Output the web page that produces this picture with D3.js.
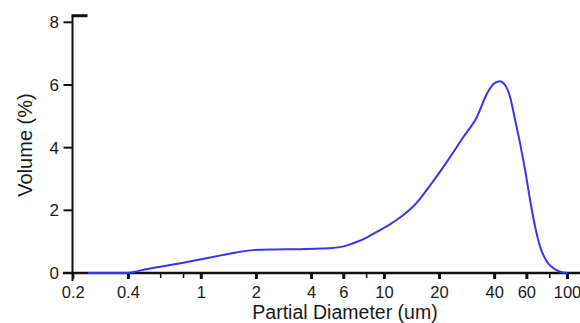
<!DOCTYPE html>
<html>
<head>
<meta charset="utf-8">
<script src="https://cdn.jsdelivr.net/npm/d3@7"></script>
<style>
  html, body { margin: 0; padding: 0; background: #fff; }
  svg { display: block; }
  text { font-family: "Liberation Sans", Arial, Helvetica, sans-serif; fill: #1a1a1a; }
</style>
</head>
<body>
<svg id="chart" width="580" height="323"></svg>
<script>
// ---- data ----
const diameters = [0.24, 0.39, 0.45, 0.5, 0.6, 0.8, 1.0, 1.3, 1.63, 1.92, 2.5, 3.46, 4.5, 5.25, 6.0, 6.75, 8.0, 9.13, 10.5, 11.7, 13.0, 14.4, 16.0, 17.8, 21.9, 27.0, 32.0, 36.3, 39.4, 42.5, 45.7, 48.6, 51.8, 55.1, 58.7, 62.5, 66.6, 70.9, 77.2, 83.8, 91.2, 100];
const volumes   = [0.0, 0.0, 0.06, 0.12, 0.2, 0.33, 0.44, 0.57, 0.68, 0.73, 0.75, 0.76, 0.78, 0.8, 0.85, 0.95, 1.13, 1.32, 1.52, 1.7, 1.9, 2.13, 2.44, 2.8, 3.54, 4.34, 4.98, 5.72, 6.03, 6.12, 5.99, 5.61, 4.87, 4.13, 3.28, 2.32, 1.47, 0.84, 0.36, 0.15, 0.04, 0.0];
const xTickValues = [0.2, 0.4, 1, 2, 4, 6, 10, 20, 40, 60, 100];
const xTickLabels = ["0.2", "0.4", "1", "2", "4", "6", "10", "20", "40", "60", "100"];
const xMinorTicks = [0.6, 0.8, 8, 80];
const yTickValues = [0, 2, 4, 6, 8];
const yTickLabels = ["0", "2", "4", "6", "8"];
const xTitle = "Partial Diameter (um)";
const yTitle = "Volume (%)";

const svg = d3.select("#chart");
const x = d3.scaleLog().domain([0.2, 100]).range([73.3, 567.5]);
const y = d3.scaleLinear().domain([0, 8]).range([273, 22.3]);
const axisX = 72.5;

// ---- y axis ----
const gy = svg.append("g");
gy.append("line").attr("x1", axisX).attr("x2", axisX)
  .attr("y1", y(8.21)).attr("y2", y(0) + 8)
  .attr("stroke", "#111").attr("stroke-width", 2);
gy.append("line").attr("x1", axisX - 1).attr("x2", axisX + 15)
  .attr("y1", y(8.21)).attr("y2", y(8.21))
  .attr("stroke", "#111").attr("stroke-width", 3);
yTickValues.forEach((v, i) => {
  gy.append("line").attr("x1", axisX - 9).attr("x2", axisX)
    .attr("y1", y(v)).attr("y2", y(v))
    .attr("stroke", "#111").attr("stroke-width", 2);
  gy.append("text").attr("x", axisX - 13.5).attr("y", y(v)).attr("dy", "0.36em")
    .attr("text-anchor", "end").attr("font-size", 17).text(yTickLabels[i]);
});

// ---- x axis ----
const gx = svg.append("g");
gx.append("line").attr("x1", 63).attr("x2", 580)
  .attr("y1", y(0)).attr("y2", y(0))
  .attr("stroke", "#111").attr("stroke-width", 2.5);
xTickValues.forEach((v, i) => {
  gx.append("line").attr("x1", x(v)).attr("x2", x(v))
    .attr("y1", y(0)).attr("y2", y(0) + 6)
    .attr("stroke", "#111").attr("stroke-width", i === 0 ? 2 : 3);
  gx.append("text").attr("x", x(v)).attr("y", 298)
    .attr("text-anchor", "middle").attr("font-size", 16.5).text(xTickLabels[i]);
});
xMinorTicks.forEach(v => {
  gx.append("line").attr("x1", x(v)).attr("x2", x(v))
    .attr("y1", y(0)).attr("y2", y(0) + 5)
    .attr("stroke", "#111").attr("stroke-width", 1.5);
});

// ---- titles ----
svg.append("text").attr("x", 345).attr("y", 319)
  .attr("text-anchor", "middle").attr("font-size", 19.5).text(xTitle);
svg.append("text").attr("transform", "translate(32,145) rotate(-90)")
  .attr("text-anchor", "middle").attr("font-size", 20).text(yTitle);

// ---- curve ----
const pts = diameters.map((d, i) => [d, volumes[i]]);
const line = d3.line().x(d => x(d[0])).y(d => y(d[1])).curve(d3.curveMonotoneX);
svg.append("path").datum(pts).attr("d", line)
  .attr("fill", "none").attr("stroke", "#3535f2").attr("stroke-width", 2);
</script>
</body>
</html>
